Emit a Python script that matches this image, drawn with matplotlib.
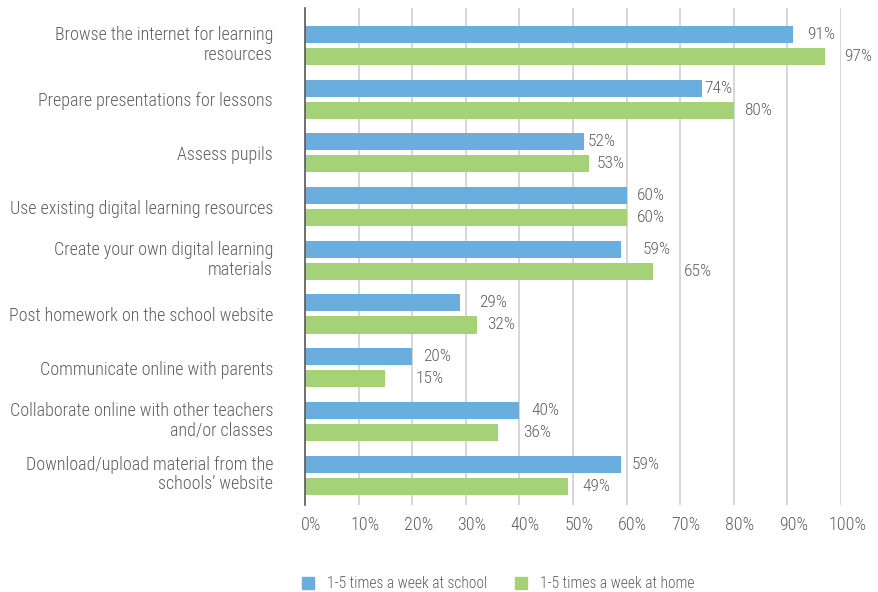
import matplotlib

matplotlib.use("Agg")
import matplotlib.font_manager as fm
import matplotlib.pyplot as plt
import numpy as np
from matplotlib.patches import Patch
from matplotlib.transforms import ScaledTranslation

# the original uses a condensed sans; pick whatever narrow face is installed
entries = fm.fontManager.ttflist
names = {f.name for f in entries}
FS = 13
STRETCH = "normal"
if "Liberation Sans Narrow" in names:
    FAMILY = "Liberation Sans Narrow"
elif "Roboto Condensed" in names:
    FAMILY = "Roboto Condensed"
elif any(f.name == "DejaVu Sans" and f.stretch == "condensed" for f in entries):
    FAMILY, STRETCH, FS = "DejaVu Sans", "condensed", 12
else:
    FAMILY, FS = "Roboto", 11.3
plt.rcParams["font.family"] = [FAMILY, "DejaVu Sans"]
plt.rcParams["font.stretch"] = STRETCH
plt.rcParams["font.weight"] = "light"

categories = [
    "Browse the internet for learning\nresources",
    "Prepare presentations for lessons",
    "Assess pupils",
    "Use existing digital learning resources",
    "Create your own digital learning\nmaterials",
    "Post homework on the school website",
    "Communicate online with parents",
    "Collaborate online with other teachers\nand/or classes",
    "Download/upload material from the\nschools\u2019 website",
]
school = [91, 74, 52, 60, 59, 29, 20, 40, 59]
home = [97, 80, 53, 60, 65, 32, 15, 36, 49]
series_names = ["1-5 times a week at school", "1-5 times a week at home"]

# manual label nudges (in % units), as in the original chart
school_nudge = [2.6, 0.4, 0.75, 1.9, 3.9, 3.5, 2.0, 2.2, 1.9]
home_nudge = [3.5, 2.0, 1.5, 1.9, 5.6, 2.0, 5.6, 4.7, 2.8]

BLUE = "#6aaddf"
GREEN = "#a5d276"
TEXT = "#5f5f5f"

fig = plt.figure(figsize=(8.79, 5.92), dpi=100)
ax = fig.add_axes([305 / 879, 1 - 505 / 592, 536 / 879, 497 / 592])

y = np.arange(len(categories))
h = 0.317
off = 0.205
ax.barh(y - off, school, height=h, color=BLUE, zorder=3)
ax.barh(y + off, home, height=h, color=GREEN, zorder=3)

for yi, v, n in zip(y, school, school_nudge):
    ax.text(v + n, yi - off, f"{v}%", va="center", ha="left", fontsize=FS - 0.5, color=TEXT)
for yi, v, n in zip(y, home, home_nudge):
    ax.text(v + n, yi + off, f"{v}%", va="center", ha="left", fontsize=FS - 0.5, color=TEXT)

ax.set_xlim(0, 100)
ax.set_ylim(8.557, -0.698)
ax.set_xticks(np.arange(0, 101, 10))
ax.set_xticklabels([f"{t}%" for t in range(0, 101, 10)])
ax.set_yticks(y)
ax.set_yticklabels(categories, linespacing=1.1)
ax.tick_params(axis="x", length=0, pad=8, labelsize=FS, labelcolor=TEXT)
ax.tick_params(axis="y", length=0, pad=23, labelsize=FS, labelcolor=TEXT)
for lab in ax.get_yticklabels():
    lab.set_horizontalalignment("right")
    if "\n" in lab.get_text():
        lab.set_transform(lab.get_transform() + ScaledTranslation(0, 3 / 100, fig.dpi_scale_trans))
for lab in ax.get_xticklabels():
    lab.set_transform(lab.get_transform() + ScaledTranslation(6 / 100, 0, fig.dpi_scale_trans))

ax.grid(True, axis="x", color="#d0d0d0", linewidth=1.2, zorder=0)
for s in ["top", "right", "bottom"]:
    ax.spines[s].set_visible(False)
ax.spines["left"].set_color("#595959")
ax.spines["left"].set_linewidth(1.2)
ax.spines["left"].set_zorder(4)

handles = [Patch(color=BLUE), Patch(color=GREEN)]
fig.legend(handles, series_names, loc="center", bbox_to_anchor=(498 / 879, 1 - 584 / 592),
           ncol=2, frameon=False, fontsize=FS - 1.8, labelcolor=TEXT,
           handlelength=0.8, handleheight=0.8, handletextpad=0.8, columnspacing=1.8)

fig.savefig("out.png", dpi=100)
plt.close(fig)
